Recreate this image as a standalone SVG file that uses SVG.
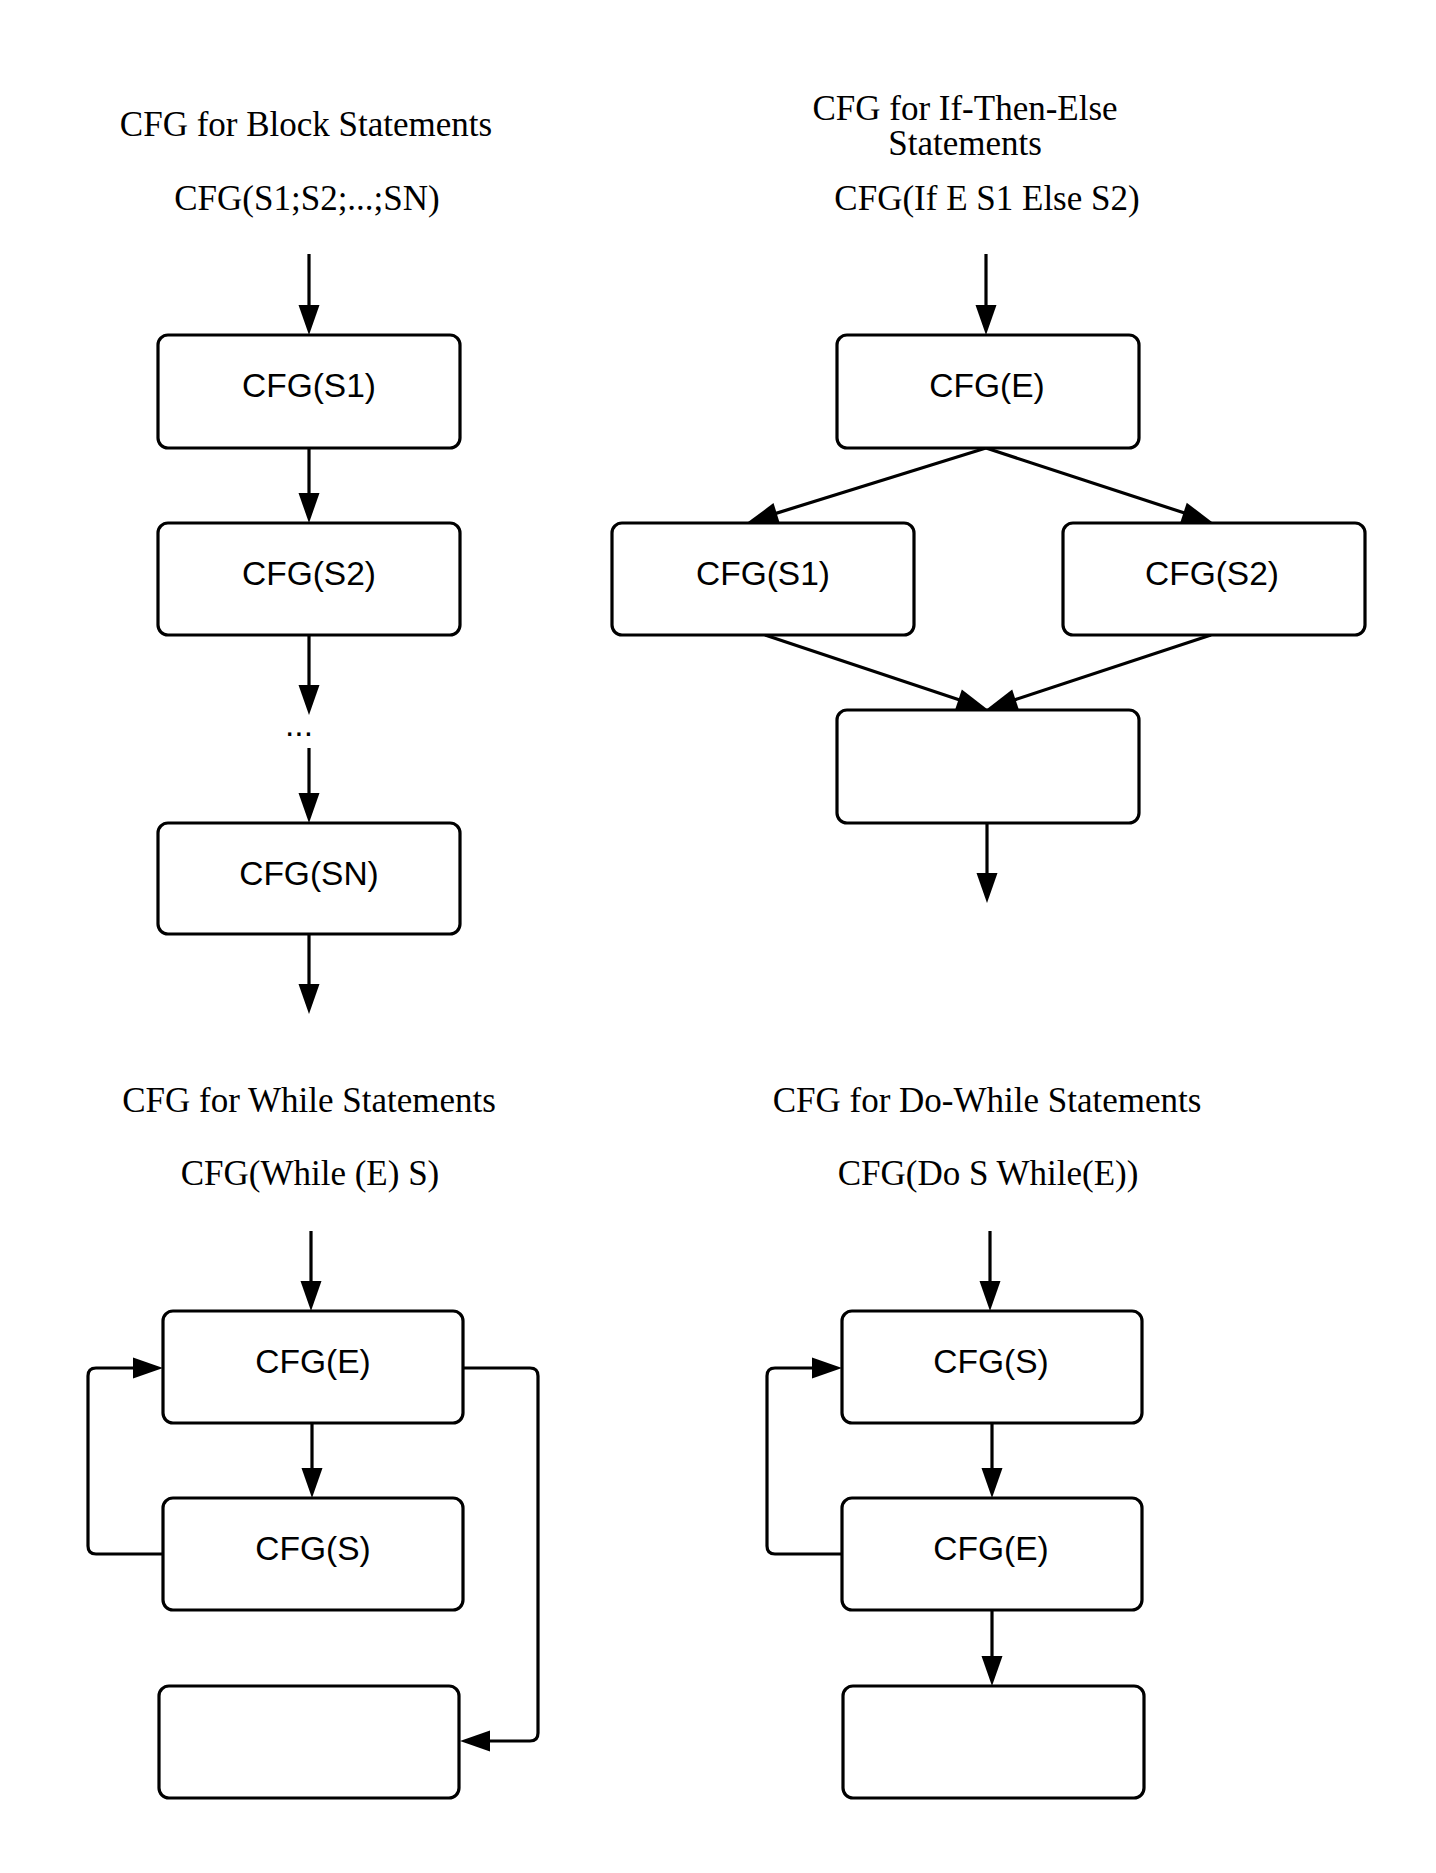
<svg xmlns="http://www.w3.org/2000/svg" width="1436" height="1873" viewBox="0 0 1436 1873">
<style>
.title{font-family:"Liberation Serif",serif;font-size:35px;fill:#000;text-anchor:middle}
.box{fill:#fff;stroke:#000;stroke-width:3.2}
.lbl{font-family:"Liberation Sans",Arial,sans-serif;font-size:33.5px;fill:#000;text-anchor:middle}
.edge{fill:none;stroke:#000;stroke-width:3.2}
</style>
<defs>
<marker id="ah" markerUnits="userSpaceOnUse" markerWidth="30" markerHeight="22" refX="10" refY="10.5" orient="auto" overflow="visible">
<path d="M0,0 L30,10.5 L0,21 z" fill="#000"/>
</marker>
</defs>
<rect width="1436" height="1873" fill="#fff"/>

<g id="titles">
<text class="title" x="306" y="136">CFG for Block Statements</text>
<text class="title" x="307" y="210">CFG(S1;S2;...;SN)</text>
<text class="title" x="965" y="120">CFG for If-Then-Else</text>
<text class="title" x="965" y="155">Statements</text>
<text class="title" x="987" y="210">CFG(If E S1 Else S2)</text>
<text class="title" x="309" y="1112">CFG for While Statements</text>
<text class="title" x="310" y="1185">CFG(While (E) S)</text>
<text class="title" x="987" y="1112">CFG for Do-While Statements</text>
<text class="title" x="988" y="1185">CFG(Do S While(E))</text>
</g>

<g id="edges">
<path class="edge" marker-end="url(#ah)" d="M309,254 V315"/>
<path class="edge" marker-end="url(#ah)" d="M309,448 V503"/>
<path class="edge" marker-end="url(#ah)" d="M309,635 V695"/>
<path class="edge" marker-end="url(#ah)" d="M309,748 V803"/>
<path class="edge" marker-end="url(#ah)" d="M309,934 V994"/>

<path class="edge" marker-end="url(#ah)" d="M986,254 V315"/>
<path class="edge" marker-end="url(#ah)" d="M986,448 L767.1,516.1"/>
<path class="edge" marker-end="url(#ah)" d="M986,448 L1193,515.8"/>
<path class="edge" marker-end="url(#ah)" d="M765,635 L968,702.7"/>
<path class="edge" marker-end="url(#ah)" d="M1211,635 L1006,702.7"/>
<path class="edge" marker-end="url(#ah)" d="M987,823 V883"/>

<path class="edge" marker-end="url(#ah)" d="M311,1231 V1291"/>
<path class="edge" marker-end="url(#ah)" d="M312,1423 V1478"/>
<path class="edge" marker-end="url(#ah)" d="M163,1554 H96 Q88,1554 88,1546 V1376 Q88,1368 96,1368 H143"/>
<path class="edge" marker-end="url(#ah)" d="M463,1368 H530 Q538,1368 538,1376 V1733 Q538,1741 530,1741 H480"/>

<path class="edge" marker-end="url(#ah)" d="M990,1231 V1291"/>
<path class="edge" marker-end="url(#ah)" d="M992,1423 V1478"/>
<path class="edge" marker-end="url(#ah)" d="M992,1610 V1666"/>
<path class="edge" marker-end="url(#ah)" d="M842,1554 H775 Q767,1554 767,1546 V1376 Q767,1368 775,1368 H822"/>
</g>

<g id="block-s1"><rect class="box" x="158" y="335" width="302" height="113" rx="10"/><text class="lbl" x="309" y="397">CFG(S1)</text></g>
<g id="block-s2"><rect class="box" x="158" y="523" width="302" height="112" rx="10"/><text class="lbl" x="309" y="585">CFG(S2)</text></g>
<g id="block-dots"><text class="lbl" x="299" y="736">...</text></g>
<g id="block-sn"><rect class="box" x="158" y="823" width="302" height="111" rx="10"/><text class="lbl" x="309" y="885">CFG(SN)</text></g>

<g id="if-e"><rect class="box" x="837" y="335" width="302" height="113" rx="10"/><text class="lbl" x="987" y="397">CFG(E)</text></g>
<g id="if-s1"><rect class="box" x="612" y="523" width="302" height="112" rx="10"/><text class="lbl" x="763" y="585">CFG(S1)</text></g>
<g id="if-s2"><rect class="box" x="1063" y="523" width="302" height="112" rx="10"/><text class="lbl" x="1212" y="585">CFG(S2)</text></g>
<g id="if-join"><rect class="box" x="837" y="710" width="302" height="113" rx="10"/></g>

<g id="while-e"><rect class="box" x="163" y="1311" width="300" height="112" rx="10"/><text class="lbl" x="313" y="1373">CFG(E)</text></g>
<g id="while-s"><rect class="box" x="163" y="1498" width="300" height="112" rx="10"/><text class="lbl" x="313" y="1560">CFG(S)</text></g>
<g id="while-exit"><rect class="box" x="159" y="1686" width="300" height="112" rx="10"/></g>

<g id="do-s"><rect class="box" x="842" y="1311" width="300" height="112" rx="10"/><text class="lbl" x="991" y="1373">CFG(S)</text></g>
<g id="do-e"><rect class="box" x="842" y="1498" width="300" height="112" rx="10"/><text class="lbl" x="991" y="1560">CFG(E)</text></g>
<g id="do-exit"><rect class="box" x="843" y="1686" width="301" height="112" rx="10"/></g>
</svg>
